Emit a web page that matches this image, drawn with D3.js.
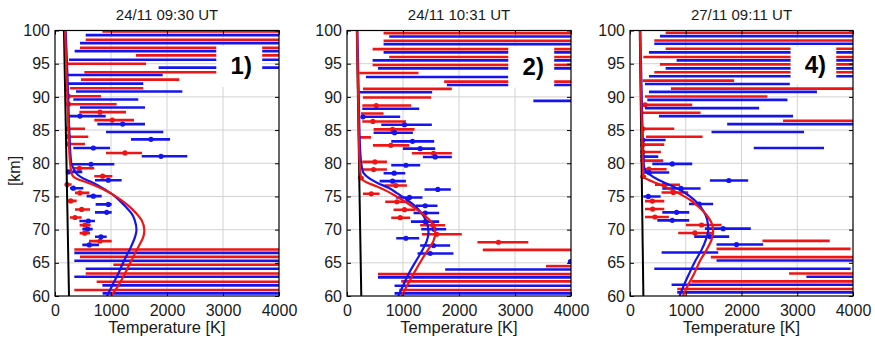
<!DOCTYPE html>
<html>
<head>
<meta charset="utf-8">
<script src="https://cdn.jsdelivr.net/npm/d3@7"></script>
<style>
  body { margin: 0; background: #fff; }
  text { font-family: "Liberation Sans", Arial, sans-serif; fill: #1a1a1a; }
</style>
</head>
<body>
<svg id="chart" width="875" height="345"></svg>
<script>
// axis ticks
const altTicks = [60, 65, 70, 75, 80, 85, 90, 95, 100];
const tempTicks = [0, 1000, 2000, 3000, 4000];
const titles = ["24/11 09:30 UT", "24/11 10:31 UT", "27/11 09:11 UT"];
const tags = ["1)", "2)", "4)"];

// error bars: [altitude km, low K, high K, mean K or null]
const red1 = [
  [99.85, 846, 4000, null], [98.6, 548, 4000, null], [97.4, 446, 4000, null],
  [96.25, 1446, 4000, null], [95.0, 220, 1625, null], [93.7, 524, 3100, null],
  [92.6, 464, 2220, null], [91.3, 268, 1577, null], [90.1, 200, 821, 235],
  [88.9, 200, 1101, 240], [87.7, 435, 1268, 804], [86.5, 702, 1411, 1024],
  [85.2, 200, 536, 230], [84.0, 200, 595, 240], [82.9, 200, 536, 230],
  [81.55, 911, 1554, 1250], [79.25, 327, 702, 435], [78.05, 702, 1024, 851],
  [76.8, 200, 297, 215], [75.53, 357, 613, 446], [74.33, 220, 387, 280],
  [73.04, 357, 625, 476], [71.83, 268, 476, 357], [70.68, 440, 637, 536],
  [69.47, 440, 625, 530], [68.27, 607, 1012, 804], [67.0, 345, 4000, null],
  [65.9, 446, 4000, null], [64.7, 1042, 4000, null], [63.4, 548, 4000, null],
  [62.15, 744, 4000, null], [60.9, 345, 4000, null]
];
const blue1 = [
  [99.3, 548, 4000, null], [98.1, 446, 4000, null], [96.9, 351, 4000, null],
  [95.6, 250, 4000, null], [94.4, 1851, 4000, null], [93.3, 220, 1923, null],
  [92.0, 220, 1577, null], [90.8, 375, 2274, null], [89.6, 327, 1488, null],
  [88.4, 446, 1607, null], [87.1, 250, 905, 446], [85.9, 756, 1607, 1208],
  [84.7, 911, 1935, null], [83.6, 1357, 2054, 1714], [82.3, 327, 982, 685],
  [81.05, 1548, 2363, 1893], [79.85, 268, 1060, 643], [78.7, 220, 488, 240],
  [77.45, 714, 1190, 952], [76.24, 268, 506, 327], [75.04, 565, 833, 685],
  [73.8, 726, 1012, 952], [72.6, 714, 1012, 923], [71.3, 435, 714, 595],
  [70.08, 488, 673, 583], [68.92, 714, 923, 821], [67.7, 488, 786, 613],
  [66.5, 345, 4000, null], [65.3, 345, 4000, null], [64.1, 548, 4000, null],
  [62.9, 345, 4000, null], [61.6, 846, 4000, null], [60.4, 850, 4000, null]
];
const red2 = [
  [99.6, 653, 4000, null], [98.45, 653, 4000, null], [97.2, 457, 4000, null],
  [96.0, 754, 4000, null], [94.8, 457, 4000, null], [93.6, 219, 1277, null],
  [92.3, 1735, 4000, null], [91.2, 285, 1872, null], [89.9, 285, 1503, null],
  [88.7, 273, 1146, 522], [87.5, 250, 653, null], [86.3, 273, 1052, 463],
  [85.1, 475, 1206, 814], [83.9, 219, 428, null], [82.7, 463, 1111, 784],
  [81.5, 1159, 1872, 1545], [80.2, 273, 713, 499], [79.05, 273, 713, 475],
  [77.8, 210, 300, 240], [76.65, 671, 1070, 873], [75.4, 285, 582, 433],
  [74.2, 683, 1099, 891], [73.0, 831, 1218, 1027], [71.8, 790, 1129, 950],
  [70.65, 1307, 1753, 1533], [69.3, 1337, 2050, 1604], [68.1, 2329, 3238, 2704],
  [66.95, 2425, 4000, null], [64.5, 3554, 4000, null], [63.3, 553, 4000, null],
  [62.2, 968, 4000, null], [60.9, 932, 4000, null]
];
const blue2 = [
  [99.1, 754, 4000, null], [97.95, 653, 4000, null], [96.7, 653, 4000, null],
  [95.5, 457, 4000, null], [94.3, 553, 4000, null], [93.0, 338, 2880, null],
  [91.8, 1783, 4000, null], [90.7, 225, 1521, null], [89.4, 3328, 4000, null],
  [88.2, 273, 1289, null], [87.0, 250, 950, 285], [85.8, 612, 1515, 1027],
  [84.6, 475, 1177, 849], [83.3, 790, 1557, 1170], [82.2, 998, 1575, 1307],
  [80.95, 1355, 1872, 1575], [79.7, 790, 1307, 1052], [78.5, 653, 1040, 843],
  [77.3, 582, 1052, 814], [76.05, 1384, 1854, 1622], [74.85, 879, 1348, 1116],
  [73.6, 1230, 1616, 1396], [72.5, 1188, 1646, 1396], [71.2, 1141, 1646, 1400],
  [70.05, 1325, 1771, 1557], [68.7, 879, 1289, 1052], [67.6, 1307, 1842, 1545],
  [66.4, 1260, 1901, 1486], [65.2, 3950, 4000, 3990], [64.0, 1753, 4000, null],
  [62.8, 553, 4000, null], [61.55, 849, 4000, null], [60.4, 849, 4000, null]
];
const red3 = [
  [99.65, 639, 4000, null], [98.5, 436, 4000, null], [97.25, 639, 4000, null],
  [96.0, 239, 4000, null], [94.9, 537, 4000, null], [93.7, 436, 4000, null],
  [92.45, 227, 1868, null], [91.25, 734, 4000, null], [90.05, 269, 2465, null],
  [88.8, 221, 1116, 270], [87.6, 209, 1266, null], [86.4, 2746, 4000, null],
  [85.2, 209, 794, 230], [84.0, 287, 1302, null], [82.8, 209, 615, 230],
  [81.7, 209, 555, 230], [80.4, 209, 597, 230], [79.1, 221, 657, 340],
  [78.0, 209, 290, 230], [76.75, 448, 896, 615], [75.6, 567, 1045, 776],
  [74.3, 269, 615, 400], [73.1, 269, 615, 406], [71.9, 269, 698, 448],
  [70.7, 1003, 1642, 1284], [69.5, 865, 1492, 1164], [68.3, 2376, 3582, null],
  [67.1, 1552, 3958, null], [65.85, 1450, 4000, null], [63.4, 2853, 4000, null],
  [62.2, 1104, 4000, null], [61.05, 847, 4000, null]
];
const blue3 = [
  [99.15, 537, 4000, null], [98.0, 436, 4000, null], [96.7, 340, 4000, null],
  [95.5, 836, 4000, null], [94.3, 639, 4000, null], [93.1, 340, 4000, null],
  [91.95, 269, 2866, null], [90.75, 340, 3353, null], [89.55, 310, 2824, null],
  [88.3, 269, 2316, null], [87.1, 519, 2925, null], [85.9, 1743, 4000, null],
  [84.7, 1462, 3122, null], [83.5, 209, 639, 230], [82.3, 2220, 3480, null],
  [81.0, 209, 507, 230], [79.9, 400, 1116, 758], [78.6, 250, 704, 340],
  [77.4, 1433, 2119, 1773], [76.2, 579, 1266, 913], [75.0, 239, 549, 328],
  [73.85, 1057, 1492, 1241], [72.6, 579, 1063, 836], [71.4, 489, 1063, 758],
  [70.15, 1343, 2167, 1671], [68.95, 1152, 1779, 1433], [67.75, 1552, 2388, 1910],
  [66.55, 567, 1582, null], [65.35, 1552, 4000, null], [64.1, 436, 3958, null],
  [62.9, 3164, 4000, null], [61.7, 746, 4000, null], [60.55, 847, 4000, null]
];

// model profiles: [altitude km, temperature K]
const redCurve1 = [[60,1000],[61.4,1119],[63.4,1250],[65.4,1369],[67.4,1488],[68.9,1577],[69.9,1595],[71.4,1548],[72.4,1458],[73.4,1339],[74.4,1190],[75.2,1050],[75.9,900],[76.7,700],[77.2,540],[77.7,380],[78.2,310],[79,285],[80,270],[85,240],[90,220],[95,200],[100,180]];
const blueCurve1 = [[60,930],[61.4,1012],[63.4,1131],[65.4,1238],[67.4,1357],[68.9,1429],[69.9,1455],[71.4,1425],[72.4,1369],[73.4,1268],[74.4,1150],[75.2,1045],[76.0,900],[76.7,760],[77.2,640],[77.7,506],[78.3,400],[79,340],[79.5,315],[80,290],[85,255],[90,235],[95,215],[100,190]];
const redCurve2 = [[60,975],[61.5,1070],[63.5,1200],[65.5,1337],[67.05,1455],[68.3,1545],[69.55,1575],[71.05,1515],[72.05,1396],[73.0,1248],[74.2,1040],[75.1,861],[75.8,713],[76.5,535],[77.1,357],[77.8,250],[80,225],[85,210],[90,200],[95,190],[100,180]];
const blueCurve2 = [[60,915],[61.5,998],[63.5,1111],[65.5,1248],[67.05,1355],[68.3,1426],[69.55,1455],[70.8,1437],[72.05,1366],[73.3,1248],[74.5,1070],[75.5,891],[76.3,742],[77.0,553],[77.8,386],[78.5,297],[79,275],[80,255],[82,235],[90,210],[100,185]];
const redCurve3 = [[60,950],[61.4,1027],[63.4,1152],[65.45,1266],[66.95,1373],[68.5,1463],[69.7,1492],[71.0,1463],[72.2,1373],[73.5,1224],[74.5,1075],[75.5,865],[76.25,686],[77.0,477],[77.5,328],[78.0,239],[80,230],[85,215],[90,200],[95,190],[100,180]];
const blueCurve3 = [[60,890],[61.4,955],[63.4,1063],[65.45,1182],[66.95,1284],[68.5,1361],[70.0,1403],[71.5,1385],[72.7,1325],[74.0,1212],[75.0,1075],[76.0,895],[76.75,704],[77.5,507],[78.3,358],[79.0,269],[80,245],[85,225],[90,210],[100,185]];
const blackLine1 = [[60, 250], [100, 160]];
const blackLine2 = [[60, 255], [100, 175]];
const blackLine3 = [[60, 240], [100, 175]];

// where the label box sits: [T from, T to, alt from, alt to]
const tagBox1 = [2880, 3700, 91.5, 97.7];
const tagBox2 = [2880, 3700, 91.4, 97.6];
const tagBox3 = [2880, 3700, 91.9, 97.6];

const panels = [
  { left: 55,  right: 279, red: red1, blue: blue1, rc: redCurve1, bc: blueCurve1, bl: blackLine1, box: tagBox1 },
  { left: 347, right: 571, red: red2, blue: blue2, rc: redCurve2, bc: blueCurve2, bl: blackLine2, box: tagBox2 },
  { left: 630, right: 853, red: red3, blue: blue3, rc: redCurve3, bc: blueCurve3, bl: blackLine3, box: tagBox3 }
];
const plotTop = 30.5, plotBottom = 296;
const RED = "#f01414", BLUE = "#1414f0";

const svg = d3.select("#chart");

panels.forEach((p, i) => {
  const x = d3.scaleLinear().domain([0, 4000]).range([p.left, p.right]);
  const y = d3.scaleLinear().domain([60, 100]).range([plotBottom, plotTop]);
  const g = svg.append("g");

  g.append("clipPath").attr("id", "clip" + i)
    .append("rect").attr("x", p.left).attr("y", plotTop)
    .attr("width", p.right - p.left).attr("height", plotBottom - plotTop);

  // grid
  const grid = g.append("g").attr("stroke", "#d2d2d2").attr("stroke-width", 1);
  grid.selectAll(".gx").data(tempTicks.slice(1, -1)).enter().append("line")
    .attr("x1", d => x(d)).attr("x2", d => x(d)).attr("y1", plotTop).attr("y2", plotBottom);
  grid.selectAll(".gy").data(altTicks.slice(1, -1)).enter().append("line")
    .attr("y1", d => y(d)).attr("y2", d => y(d)).attr("x1", p.left).attr("x2", p.right);

  const plot = g.append("g").attr("clip-path", `url(#clip${i})`);

  // error bars
  [[p.red, RED], [p.blue, BLUE]].forEach(([rows, col]) => {
    plot.append("g").selectAll("line").data(rows).enter().append("line")
      .attr("x1", d => x(d[1])).attr("x2", d => x(d[2]))
      .attr("y1", d => y(d[0])).attr("y2", d => y(d[0]))
      .attr("stroke", col).attr("stroke-width", 2.6);
    plot.append("g").selectAll("circle").data(rows.filter(d => d[3] !== null)).enter()
      .append("circle")
      .attr("cx", d => x(d[3])).attr("cy", d => y(d[0])).attr("r", 2.6)
      .attr("fill", col);
  });

  // white box with panel tag
  const b = p.box;
  g.append("rect").attr("x", x(b[0])).attr("y", y(b[3]))
    .attr("width", x(b[1]) - x(b[0])).attr("height", y(b[2]) - y(b[3]))
    .attr("fill", "#fff");
  g.append("text").attr("x", x((b[0] + b[1]) / 2) + 2).attr("y", y((b[2] + b[3]) / 2) + 8)
    .attr("text-anchor", "middle").attr("font-size", 24).attr("font-weight", "bold")
    .style("fill", "#000").text(tags[i]);

  // profiles
  const line = d3.line().x(d => x(d[1])).y(d => y(d[0])).curve(d3.curveMonotoneY);
  plot.append("path").datum(p.bl).attr("d", line).attr("fill", "none")
    .attr("stroke", "#000").attr("stroke-width", 2);
  plot.append("path").datum(p.bc).attr("d", line).attr("fill", "none")
    .attr("stroke", BLUE).attr("stroke-width", 2.2);
  plot.append("path").datum(p.rc).attr("d", line).attr("fill", "none")
    .attr("stroke", RED).attr("stroke-width", 2.2);

  // axes, matlab style box with inward ticks
  const tk = 4;
  g.append("g").attr("transform", `translate(0,${plotBottom})`)
    .call(d3.axisBottom(x).tickValues(tempTicks).tickFormat(d3.format("d"))
      .tickSizeInner(-tk).tickSizeOuter(0).tickPadding(9))
    .call(a => a.select(".domain").remove());
  g.append("g").attr("transform", `translate(0,${plotTop})`)
    .call(d3.axisTop(x).tickValues(tempTicks).tickSizeInner(-tk).tickSizeOuter(0).tickFormat(""))
    .call(a => a.select(".domain").remove());
  g.append("g").attr("transform", `translate(${p.left},0)`)
    .call(d3.axisLeft(y).tickValues(altTicks).tickFormat(d3.format("d"))
      .tickSizeInner(-tk).tickSizeOuter(0).tickPadding(5))
    .call(a => a.select(".domain").remove());
  g.append("g").attr("transform", `translate(${p.right},0)`)
    .call(d3.axisRight(y).tickValues(altTicks).tickSizeInner(-tk).tickSizeOuter(0).tickFormat(""))
    .call(a => a.select(".domain").remove());
  g.selectAll(".tick text").attr("font-size", 16).attr("font-family", null).style("fill", "#1a1a1a");
  g.selectAll(".tick line").attr("stroke", "#000");

  g.append("rect").attr("x", p.left).attr("y", plotTop)
    .attr("width", p.right - p.left).attr("height", plotBottom - plotTop)
    .attr("fill", "none").attr("stroke", "#000").attr("stroke-width", 1.2);

  g.append("text").attr("x", (p.left + p.right) / 2).attr("y", 20)
    .attr("text-anchor", "middle").attr("font-size", 15).text(titles[i]);
  g.append("text").attr("x", (p.left + p.right) / 2).attr("y", 333)
    .attr("text-anchor", "middle").attr("font-size", 16.5).text("Temperature [K]");
});

svg.append("text").attr("transform", "translate(20,171) rotate(-90)")
  .attr("text-anchor", "middle").attr("font-size", 16).text("[km]");
</script>
</body>
</html>
